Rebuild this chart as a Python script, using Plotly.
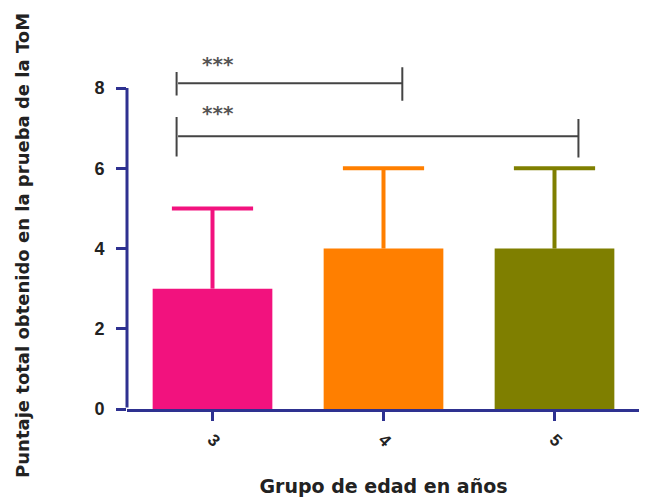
import plotly.graph_objects as go

# ---- data ----
groups = ["3", "4", "5"]
means = [3, 4, 4]
err_up = [2, 2, 2]
colors = ["#F2127E", "#FF7F00", "#7F7F00"]
y_ticks = [0, 2, 4, 6, 8]
sig_labels = ["***", "***"]
y_title = "Puntaje total obtenido en la prueba de la ToM"
x_title = "Grupo de edad en años"

AXIS = "#2E3190"
BRK = "#444444"

fig = go.Figure()
for g, m, c in zip(groups, means, colors):
    fig.add_trace(go.Bar(
        x=[g], y=[m], width=0.7, marker=dict(color=c, line=dict(width=0)),
        showlegend=False,
    ))
# upper-only error bars: stem via error_y (no caps), cap via a line marker
for g, m, e, c in zip(groups, means, err_up, colors):
    fig.add_trace(go.Scatter(
        x=[g], y=[m + e], mode="markers",
        marker=dict(symbol="line-ew", size=58, color=c, line=dict(color=c, width=4)),
        error_y=dict(type="data", symmetric=False, array=[0], arrayminus=[e],
                     color=c, thickness=4, width=0),
        showlegend=False, hoverinfo="skip",
    ))

# significance brackets (line annotations, so they can sit above y = 8)
brackets = [
    # (x_left, x_right, y_bar, yl0, yl1, yr0, yr1, star_x, star_y)
    (-0.21, 1.11, 8.12, 7.78, 8.40, 7.65, 8.52, 0.03, 8.6),
    (-0.21, 2.14, 6.80, 6.26, 7.28, 6.23, 7.23, 0.03, 7.38),
]
anns = []
def seg(x0, y0, x1, y1, color=BRK, w=2):
    return dict(x=x1, y=y1, ax=x0, ay=y0, xref="x", yref="y", axref="x", ayref="y",
                text="", showarrow=True, arrowhead=0, arrowwidth=w, arrowcolor=color,
                standoff=0, startstandoff=0)
for (xl, xr, yb, yl0, yl1, yr0, yr1, sx, sy), lab in zip(brackets, sig_labels):
    anns.append(seg(xl, yb, xr, yb))
    anns.append(seg(xl, yl0, xl, yl1))
    anns.append(seg(xr, yr0, xr, yr1))
    anns.append(dict(x=sx, y=sy, xref="x", yref="y", text=lab, showarrow=False,
                     font=dict(family="DejaVu Sans", size=20, color="#555555", weight="bold")))
# y-axis line, only from 0 to 8
anns.append(seg(-0.5, y_ticks[0], -0.5, y_ticks[-1], color=AXIS, w=3))
# y-axis title
anns.append(dict(text=y_title, textangle=-90, xref="paper", yref="paper",
                 x=-0.205, y=0.454, xanchor="center", yanchor="middle", showarrow=False,
                 font=dict(family="DejaVu Sans", size=18, color="#222222", weight="bold")))

fig.update_layout(
    width=639, height=489,
    margin=dict(l=119, r=7, t=40, b=88),
    paper_bgcolor="white", plot_bgcolor="white",
    barmode="overlay",
    annotations=anns,
    xaxis=dict(
        type="category", range=[-0.5, 2.5], automargin=False,
        showline=True, linecolor=AXIS, linewidth=3,
        ticks="outside", ticklen=9, tickwidth=3, tickcolor=AXIS,
        tickangle=45, ticklabelstandoff=2,
        tickfont=dict(family="Liberation Sans", size=17, color="#222222", weight="bold"),
        showgrid=False, zeroline=False,
        title=dict(text=x_title, standoff=34,
                   font=dict(family="DejaVu Sans", size=19, color="#222222", weight="bold")),
    ),
    yaxis=dict(
        range=[0, 9], tickvals=y_ticks, automargin=False,
        showline=False,
        ticks="outside", ticklen=10, tickwidth=3, tickcolor=AXIS,
        ticklabelstandoff=8,
        tickfont=dict(family="Liberation Sans", size=18, color="#222222", weight="bold"),
        showgrid=False, zeroline=False,
    ),
)

fig.write_html("out.html")
